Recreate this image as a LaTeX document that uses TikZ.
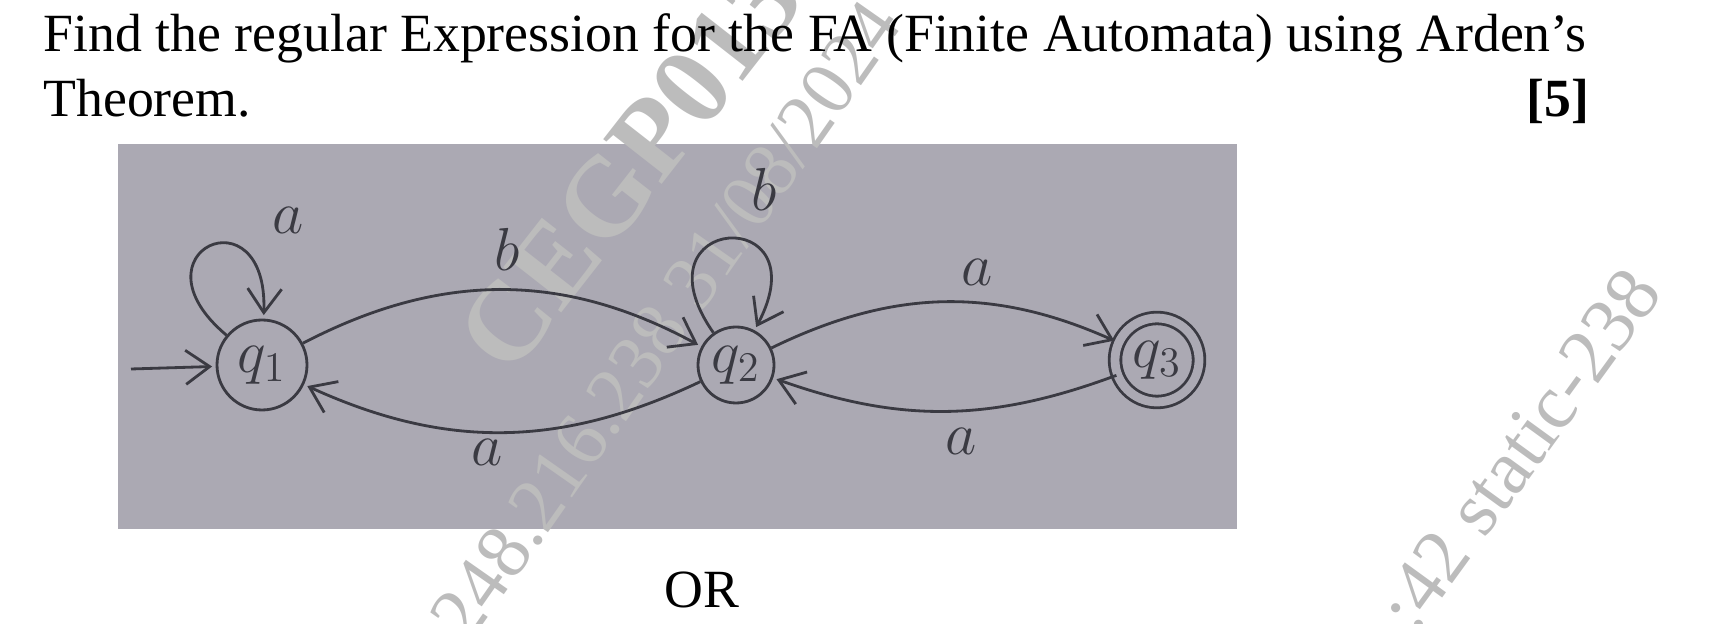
\documentclass[tikz,border=0pt]{standalone}
\usepackage{fontspec}
\setmainfont{Liberation Serif}
\usetikzlibrary{arrows.meta}

\definecolor{photo}{RGB}{171,169,179}
\definecolor{pencil}{RGB}{58,58,66}
\definecolor{stamp}{RGB}{188,188,188}

\begin{document}
\begin{tikzpicture}[->,>={Straight Barb[length=2.4mm,width=3.4mm]},shorten >=1pt,
                    thick, font=\fontsize{15.3}{18.5}\selectfont]
\useasboundingbox (0,0) rectangle (17.36,6.24);
\clip (0,0) rectangle (17.36,6.24);

% scanned sketch
\fill[photo] (1.18,0.95) rectangle (12.37,4.80);

% watermark
\node[stamp, anchor=base west, rotate=52, inner sep=0, font=\fontsize{32}{32}\selectfont\bfseries] (W1) at (5.10,2.44) {CEGP013};
\node[stamp, anchor=base west, rotate=55, inner sep=0, font=\fontsize{22}{22}\selectfont] (W2) at (4.68,-0.23) {248.216.238 31/08/2024};
\node[stamp, anchor=base east, rotate=54, inner sep=0, font=\fontsize{22}{22}\selectfont] (W3) at (16.65,3.32) {:42 static-238};

% question text
\node[anchor=base west, inner sep=0] (Q1) at (0.42,5.72) {Find the regular Expression for the FA (Finite Automata) using Arden's};
\node[anchor=base west, inner sep=0] (Q2) at (0.42,5.07) {Theorem.};
\node[anchor=base east, inner sep=0] (M) at (15.91,5.07) {\textbf{[5]}};
\node[anchor=base, inner sep=0] (OR) at (7.02,0.16) {OR};

\begin{scope}[pencil, every node/.style={font=\LARGE}]
\node[draw, circle, inner sep=1pt, minimum size=0.9cm] (A) at (2.62,2.59) {$q_1$};
\node[draw, circle, inner sep=1pt, minimum size=0.76cm] (B) at (7.36,2.59) {$q_2$};
\node[draw, circle, inner sep=1pt, minimum size=0.84cm, double=photo,
      double distance=2.5pt] (C) at (11.57,2.64) {$q_3$};
\coordinate (S) at (1.31,2.55);

\draw (S) to (A);
\draw (A) to [loop, out=140, in=88, min distance=1.3cm] node[above right, xshift=0.5cm] {$a$} (A);
\draw (B) to [loop, out=125, in=62, min distance=1.45cm] node[above right, xshift=0.1cm, yshift=0.15cm] {$b$} (B);
\draw (A) to [bend left=28] node[above=0.06cm, xshift=0.05cm] {$b$} (B);
\draw (B) to [bend left=25] node[pos=0.54, below=0cm, yshift=0.06cm] {$a$} (A);
\draw (B) to [bend left=25] node[pos=0.6, above=0.05cm] {$a$} (C);
\draw (C) to [bend left=20] node[pos=0.45, below=0.05cm] {$a$} (B);
\end{scope}

\end{tikzpicture}
\end{document}
